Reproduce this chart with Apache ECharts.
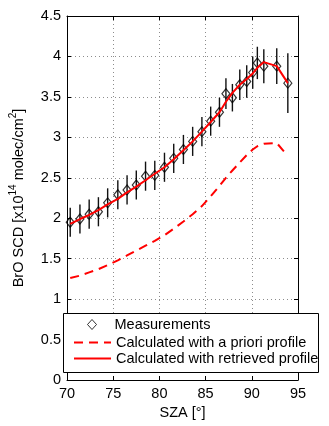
<!DOCTYPE html>
<html><head><meta charset="utf-8">
<script src="https://cdn.jsdelivr.net/npm/echarts@6/dist/echarts.min.js"></script>
<style>html,body{margin:0;padding:0;background:#fff}#c{width:329px;height:426px}</style>
</head><body><div id="c"></div>
<script>
// ---- data ----
const sza = [70.35, 71.4, 72.4, 73.4, 74.4, 75.5, 76.5, 77.5, 78.5, 79.5, 80.55, 81.55, 82.6, 83.6, 84.6, 85.55, 86.5, 87.2, 87.9, 88.7, 89.45, 90.1, 90.6, 91.3, 92.7, 93.9];
const measured = [1.95, 1.99, 2.05, 2.08, 2.19, 2.29, 2.35, 2.41, 2.52, 2.53, 2.63, 2.74, 2.85, 2.95, 3.07, 3.20, 3.31, 3.54, 3.49, 3.65, 3.69, 3.80, 3.92, 3.88, 3.88, 3.67];
const measErr = [0.18, 0.18, 0.18, 0.18, 0.18, 0.18, 0.18, 0.18, 0.18, 0.18, 0.18, 0.18, 0.18, 0.18, 0.18, 0.18, 0.18, 0.19, 0.17, 0.19, 0.2, 0.2, 0.2, 0.21, 0.22, 0.37];
const aprioriSCD = [1.26, 1.29, 1.33, 1.37, 1.42, 1.48, 1.54, 1.60, 1.66, 1.72, 1.79, 1.87, 1.96, 2.05, 2.15, 2.27, 2.40, 2.50, 2.59, 2.69, 2.78, 2.85, 2.89, 2.92, 2.93, 2.77];
const retrievedSCD = [1.93, 1.99, 2.04, 2.10, 2.17, 2.24, 2.32, 2.39, 2.47, 2.55, 2.63, 2.73, 2.84, 2.95, 3.07, 3.19, 3.31, 3.44, 3.55, 3.65, 3.72, 3.79, 3.86, 3.93, 3.88, 3.67];
const xTicks = [70, 75, 80, 85, 90, 95];
const yTicks = [0, 0.5, 1, 1.5, 2, 2.5, 3, 3.5, 4, 4.5];
const seriesNames = ['Measurements', 'Calculated with a priori profile', 'Calculated with retrieved profile'];

const FONT = '"Liberation Sans", Arial, sans-serif';
const FS = 14.5;
const chart = echarts.init(document.getElementById('c'), null, {renderer: 'canvas'});

const xMin = xTicks[0], xMax = xTicks[xTicks.length - 1], xInt = xTicks[1] - xTicks[0];
const yMin = yTicks[0], yMax = yTicks[yTicks.length - 1], yInt = yTicks[1] - yTicks[0];

const axisLine = {show: true, onZero: false, lineStyle: {color: '#000', width: 1}};
const axisTick = {show: true, inside: true, length: 4, lineStyle: {color: '#000', width: 1}};
const splitLine = {show: true, lineStyle: {color: '#8c8c8c', type: [1, 3], width: 1}};
const labelStyle = {color: '#000', fontSize: FS, fontFamily: FONT};

const option = {
  animation: false,
  backgroundColor: '#fff',
  grid: {left: 59, right: 31, top: 16, bottom: 46},
  xAxis: [
    {type: 'value', position: 'bottom', min: xMin, max: xMax, interval: xInt,
     axisLine, axisTick, splitLine, axisLabel: Object.assign({margin: 6}, labelStyle),
     name: 'SZA [°]', nameLocation: 'middle', nameGap: 24,
     nameTextStyle: {color: '#000', fontSize: FS, fontFamily: FONT}},
    {type: 'value', position: 'top', min: xMin, max: xMax, interval: xInt,
     axisLine, axisTick, splitLine: {show: false}, axisLabel: {show: false}}
  ],
  yAxis: [
    {type: 'value', position: 'left', min: yMin, max: yMax, interval: yInt,
     axisLine, axisTick, splitLine, axisLabel: Object.assign({margin: 6}, labelStyle),
     name: '{a|BrO SCD [x10}{s|14}{a| molec/cm}{s|2}{a|]}',
     nameLocation: 'middle', nameRotate: 90, nameGap: 37,
     nameTextStyle: {color: '#000', fontFamily: FONT,
       rich: {a: {fontSize: FS, fontFamily: FONT, color: '#000', lineHeight: 22},
              s: {fontSize: 10, fontFamily: FONT, color: '#000', verticalAlign: 'top', lineHeight: 12}}}},
    {type: 'value', position: 'right', min: yMin, max: yMax, interval: yInt,
     axisLine, axisTick, splitLine: {show: false}, axisLabel: {show: false}}
  ],
  graphic: [{type: 'rect', z: 50, shape: {x: 63.5, y: 313.5, width: 255, height: 59},
             style: {fill: '#fff', stroke: '#000', lineWidth: 1}}],
  legend: [
    {data: [{name: seriesNames[0], itemStyle: {color: '#fff', borderColor: '#000', borderWidth: 1}}],
     z: 60, left: 87, top: 317, padding: 0, itemWidth: 9, itemHeight: 10,
     textStyle: {color: '#000', fontSize: FS, fontFamily: FONT, padding: [0, 0, 0, 13]}},
    {data: [{name: seriesNames[1], itemStyle: {opacity: 0}}, {name: seriesNames[2], itemStyle: {opacity: 0}}],
     z: 60, orient: 'vertical', left: 73, top: 335, padding: 0,
     itemGap: 1, itemWidth: 37, itemHeight: 14,
     textStyle: {color: '#000', fontSize: FS, fontFamily: FONT}}
  ],
  series: [
    {name: 'errorbars', type: 'custom', z: 3,
     data: sza.map((x, i) => [x, measured[i], measErr[i]]),
     encode: {x: 0, y: 1},
     renderItem: function (params, api) {
       const x = api.value(0), y = api.value(1), e = api.value(2);
       const p1 = api.coord([x, y - e]), p2 = api.coord([x, y + e]);
       return {type: 'line', shape: {x1: p1[0], y1: p1[1], x2: p2[0], y2: p2[1]},
               style: {stroke: '#111', lineWidth: 1.4}};
     }},
    {name: seriesNames[0], type: 'scatter', z: 4, symbol: 'diamond', symbolSize: [8, 10],
     data: sza.map((x, i) => [x, measured[i]]),
     itemStyle: {color: 'rgba(255,255,255,0)', borderColor: '#000', borderWidth: 1.2}},
    {name: seriesNames[1], type: 'line', z: 5, symbol: 'none', smooth: false,
     data: sza.map((x, i) => [x, aprioriSCD[i]]),
     itemStyle: {color: '#ff0000'},
     lineStyle: {color: '#ff0000', width: 2, type: [9, 6]}},
    {name: seriesNames[2], type: 'line', z: 6, symbol: 'none', smooth: false,
     data: sza.map((x, i) => [x, retrievedSCD[i]]),
     itemStyle: {color: '#ff0000'},
     lineStyle: {color: '#ff0000', width: 2}}
  ]
};
chart.setOption(option);
</script>
</body></html>
